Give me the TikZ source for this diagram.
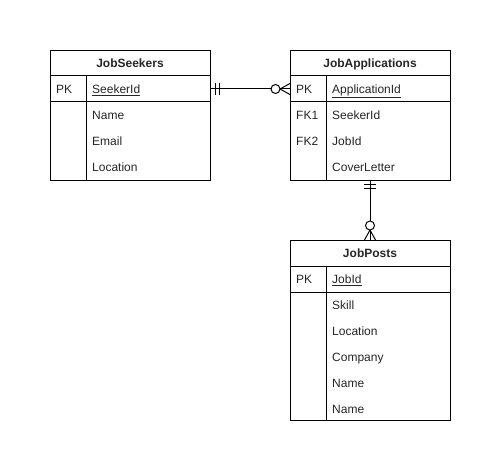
\documentclass[tikz,border=0pt]{standalone}
\usepackage{fontspec}
\setmainfont{Liberation Sans}
\begin{document}
\begin{tikzpicture}[x=1pt,y=-1pt,
  frame/.style={draw=black, line width=1pt, fill=white, anchor=north west, inner sep=0pt},
  sep/.style={draw=black, line width=1pt},
  ttl/.style={font=\fontsize{12pt}{14pt}\selectfont\bfseries, inner sep=0pt, text=black!85, text height=9pt, text depth=2.5pt},
  key/.style={font=\fontsize{12pt}{14pt}\selectfont, anchor=west, inner sep=0pt, text=black!85, text height=9pt, text depth=2.5pt},
  fld/.style={font=\fontsize{12pt}{14pt}\selectfont, anchor=west, inner sep=0pt, text=black!85, text height=9pt, text depth=2.5pt},
  rel/.style={draw=black, line width=1pt}]
\path[fill=white] (0,0) rectangle (501,476);
\useasboundingbox (0,0) rectangle (501,476);

% JobSeekers
\node[frame, minimum width=160pt, minimum height=130pt] (js) at (50,50) {};
\draw[sep] (50,76) -- (210,76);
\draw[sep] (50,102) -- (210,102);
\draw[sep] (86,76) -- (86,180);
\node[ttl] (jst) at (130,64.5) {JobSeekers};
\node[key] (jsk) at (56,90.5) {PK};
\node[fld] (jsf1) at (92,90.5) {\underline{SeekerId}};
\node[fld] (jsf2) at (92,116.5) {Name};
\node[fld] (jsf3) at (92,142.5) {Email};
\node[fld] (jsf4) at (92,168.5) {Location};

% JobApplications
\node[frame, minimum width=160pt, minimum height=130pt] (ja) at (290,50) {};
\draw[sep] (290,76) -- (450,76);
\draw[sep] (290,102) -- (450,102);
\draw[sep] (326,76) -- (326,180);
\node[ttl] (jat) at (370,64.5) {JobApplications};
\node[key] (jak1) at (296,90.5) {PK};
\node[key] (jak2) at (296,116.5) {FK1};
\node[key] (jak3) at (296,142.5) {FK2};
\node[fld] (jaf1) at (332,90.5) {\underline{ApplicationId}};
\node[fld] (jaf2) at (332,116.5) {SeekerId};
\node[fld] (jaf3) at (332,142.5) {JobId};
\node[fld] (jaf4) at (332,168.5) {CoverLetter};

% JobPosts
\node[frame, minimum width=160pt, minimum height=180pt] (jp) at (290,240) {};
\draw[sep] (290,266) -- (450,266);
\draw[sep] (290,292) -- (450,292);
\draw[sep] (326,266) -- (326,420);
\node[ttl] (jpt) at (370,254.5) {JobPosts};
\node[key] (jpk) at (296,280.5) {PK};
\node[fld] (jpf1) at (332,280.5) {\underline{JobId}};
\node[fld] (jpf2) at (332,306.5) {Skill};
\node[fld] (jpf3) at (332,332.5) {Location};
\node[fld] (jpf4) at (332,358.5) {Company};
\node[fld] (jpf5) at (332,384.5) {Name};
\node[fld] (jpf6) at (332,410.5) {Name};

% Relationship 1: JobSeekers ||--o< JobApplications
\coordinate (r1a) at (210,89);
\coordinate (r1c) at (275.5,89);
\coordinate (r1f) at (280,89);
\coordinate (r1b) at (290,89);
\draw[rel] (r1a) -- (271,89);
\draw[rel] (215,83) -- (215,95);
\draw[rel] (219,83) -- (219,95);
\draw[rel] (r1c) circle (4.5);
\draw[rel] (r1f) -- (r1b);
\draw[rel] (r1f) -- (290,83.5);
\draw[rel] (r1f) -- (290,94.5);

% Relationship 2: JobApplications ||--o< JobPosts
\coordinate (r2a) at (370,180);
\coordinate (r2c) at (370,225.5);
\coordinate (r2f) at (370,230);
\coordinate (r2b) at (370,240);
\draw[rel] (r2a) -- (370,221);
\draw[rel] (364,185) -- (376,185);
\draw[rel] (364,189) -- (376,189);
\draw[rel] (r2c) circle (4.5);
\draw[rel] (r2f) -- (r2b);
\draw[rel] (r2f) -- (364.5,240);
\draw[rel] (r2f) -- (375.5,240);
\end{tikzpicture}
\end{document}
